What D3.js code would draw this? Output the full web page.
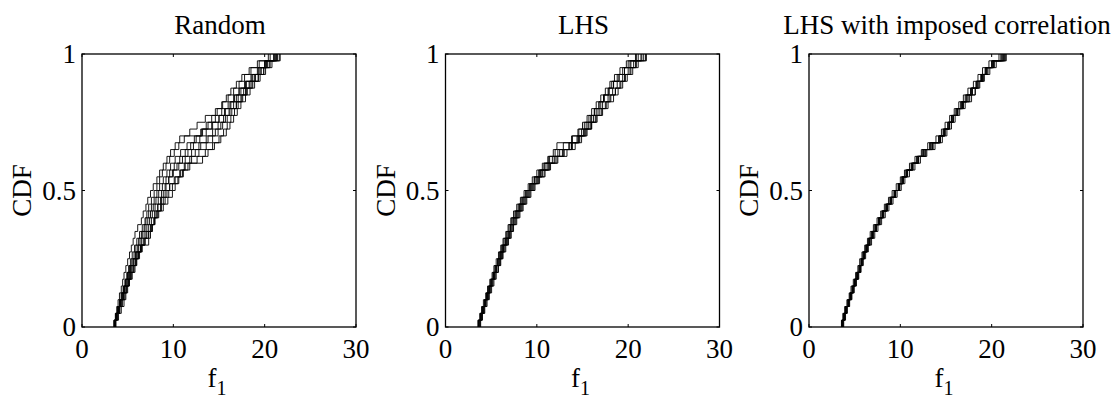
<!DOCTYPE html>
<html>
<head>
<meta charset="utf-8">
<script src="https://cdn.jsdelivr.net/npm/d3@7"></script>
<style>
  html, body { margin: 0; padding: 0; background: #fff; }
  svg { display: block; }
  text { font-family: "Liberation Serif", "Times New Roman", Times, serif; fill: #000; }
</style>
</head>
<body>
<svg id="chart" width="1120" height="398"></svg>
<script>
// ---------- data ----------
const panelTitles = ["Random", "LHS", "LHS with imposed correlation"];
const xTickValues = [0, 10, 20, 30];
const yTickValues = [0, 0.5, 1];
const yTickLabels = ["0", "0.5", "1"];
const xLabel = "f";
const xLabelSub = "1";
const yLabel = "CDF";

// sorted sample values of f1 for each run (empirical CDF, 40 samples per run)
const randomRuns = [
  [3.5,3.65,3.8,3.95,4.1,4.3,4.45,4.6,4.8,5.0,5.2,5.4,5.6,5.8,6.1,6.5,6.7,7.0,7.2,7.5,7.8,8.2,8.5,8.9,9.3,9.7,10.2,10.7,13.0,13.6,14.2,14.8,15.3,15.8,16.3,16.9,17.5,18.3,19.2,20.4],
  [3.7,4.0,4.3,4.6,4.8,5.0,5.2,5.5,5.8,6.0,6.3,6.6,6.9,7.3,7.6,8.0,8.4,8.9,9.4,9.9,10.2,10.6,11.0,11.6,13.2,13.8,14.5,15.2,15.8,16.2,16.6,17.0,17.4,17.9,18.4,18.9,19.5,20.1,20.8,21.6],
  [3.6,3.8,4.1,4.4,4.6,4.9,5.1,5.3,5.6,5.9,6.2,6.5,6.9,7.3,7.7,7.9,8.2,8.6,8.9,9.3,9.6,10.2,10.8,11.2,11.8,12.4,13.0,13.8,14.6,15.2,15.7,16.2,16.9,17.5,18.0,18.6,19.3,19.9,20.5,21.4],
  [3.6,3.75,3.95,4.2,4.4,4.6,4.8,5.0,5.3,5.6,5.9,6.4,7.3,7.5,7.7,7.9,8.1,8.3,8.6,8.9,9.2,9.5,9.9,10.4,11.0,11.6,12.2,12.9,13.6,14.3,15.0,15.6,16.2,16.7,17.2,17.9,18.6,19.4,20.1,21.0],
  [3.55,3.7,3.9,4.1,4.3,4.55,4.75,5.0,5.2,5.45,5.7,5.9,6.2,6.5,6.8,7.0,7.3,7.6,7.9,8.2,8.5,8.9,9.3,9.7,10.2,10.8,11.5,12.3,13.2,14.2,15.0,15.7,16.3,16.9,17.4,18.0,18.7,19.3,20.0,21.1],
  [3.65,3.9,4.15,4.4,4.7,4.9,5.15,5.4,5.7,5.95,6.2,6.5,6.8,7.1,7.5,7.9,8.3,8.7,9.1,9.5,9.9,10.5,11.1,11.8,12.6,13.5,14.3,15.0,15.5,15.9,16.3,16.7,17.1,17.6,18.1,18.7,19.3,19.9,20.6,21.7],
  [3.5,3.7,3.9,4.1,4.3,4.5,4.7,4.9,5.1,5.3,5.5,5.75,6.0,6.3,6.6,6.9,7.1,7.3,7.6,7.9,8.2,8.5,8.8,9.2,9.6,10.1,10.6,11.2,11.8,12.6,13.5,14.6,15.4,16.0,16.6,17.2,17.8,18.5,19.4,20.6],
  [3.6,3.8,4.0,4.25,4.5,4.7,4.95,5.2,5.45,5.7,5.95,6.2,6.5,6.8,7.1,7.4,7.7,8.0,8.35,8.7,9.1,9.5,10.0,10.6,11.3,12.0,12.8,13.6,14.3,14.9,15.5,16.1,16.6,17.1,17.7,18.3,18.9,19.6,20.3,21.3],
  [3.7,3.85,4.05,4.3,4.55,4.8,5.05,5.35,5.6,5.85,6.1,6.4,6.7,7.0,7.3,7.6,7.95,8.3,8.7,9.1,9.6,10.1,10.7,11.3,12.0,12.8,13.6,14.3,14.9,15.4,15.9,16.4,16.9,17.4,17.9,18.4,19.0,19.6,20.2,21.0],
  [3.55,3.75,4.0,4.2,4.45,4.65,4.9,5.1,5.35,5.6,5.85,6.1,6.35,6.6,6.9,7.2,7.5,7.8,8.1,8.4,8.8,9.2,9.6,10.1,10.7,11.3,11.9,12.5,13.1,13.8,14.6,15.3,16.0,16.6,17.2,17.8,18.5,19.2,20.0,21.2]
];

const lhsRuns = [
  [3.55,3.75,3.95,4.15,4.4,4.6,4.85,5.1,5.3,5.55,5.8,6.05,6.3,6.6,6.85,7.15,7.45,7.8,8.2,8.6,9.05,9.5,10.0,10.6,11.2,12.0,12.9,13.8,14.5,15.0,15.5,16.0,16.5,17.0,17.5,18.0,18.5,19.1,19.8,20.8],
  [3.85,4.05,4.3,4.55,4.8,5.05,5.3,5.55,5.8,6.05,6.3,6.6,6.9,7.2,7.45,7.8,8.15,8.5,8.9,9.35,9.8,10.3,10.9,11.5,12.3,13.3,14.2,14.9,15.5,16.0,16.5,17.1,17.6,18.1,18.6,19.2,19.7,20.3,20.9,21.9],
  [3.7,3.85,4.05,4.3,4.5,4.7,4.95,5.2,5.4,5.7,5.9,6.15,6.4,6.7,6.95,7.25,7.6,7.95,8.3,8.75,9.2,9.7,10.2,10.8,11.4,12.3,13.5,14.6,15.3,15.9,16.4,16.9,17.5,18.0,18.6,19.1,19.6,20.2,20.8,21.7],
  [3.75,4.0,4.25,4.45,4.7,4.95,5.2,5.45,5.75,6.0,6.25,6.5,6.8,7.1,7.4,7.7,8.05,8.4,8.8,9.25,9.7,10.2,10.8,11.4,12.2,13.0,13.8,14.4,14.9,15.4,15.9,16.3,16.8,17.3,17.8,18.2,18.8,19.4,20.0,20.9],
  [3.6,3.8,4.0,4.3,4.5,4.75,5.0,5.25,5.5,5.75,6.0,6.25,6.55,6.85,7.1,7.4,7.75,8.1,8.5,8.95,9.4,9.9,10.4,11.0,11.7,12.5,13.6,14.5,15.2,15.7,16.2,16.7,17.2,17.8,18.3,18.8,19.4,20.0,20.6,21.5],
  [3.65,3.9,4.15,4.35,4.6,4.85,5.1,5.35,5.6,5.85,6.1,6.35,6.65,6.95,7.2,7.5,7.85,8.2,8.6,9.05,9.5,10.0,10.55,11.2,11.9,12.8,13.8,14.6,15.1,15.6,16.0,16.5,17.0,17.4,17.9,18.4,19.0,19.6,20.2,21.1],
  [3.6,3.85,4.1,4.3,4.55,4.8,5.0,5.25,5.5,5.75,6.0,6.3,6.55,6.85,7.1,7.4,7.7,8.05,8.45,8.85,9.3,9.75,10.3,10.8,11.3,11.8,12.2,13.9,14.6,15.2,15.7,16.3,16.8,17.3,17.9,18.4,19.0,19.6,20.3,21.4],
  [3.8,3.95,4.15,4.4,4.65,4.85,5.1,5.35,5.6,5.9,6.15,6.4,6.7,7.0,7.3,7.6,7.95,8.3,8.7,9.15,9.6,10.1,10.6,11.3,12.0,12.9,13.9,14.7,15.4,16.0,16.6,17.2,17.8,18.4,18.9,19.4,19.9,20.5,21.1,22.0]
];

const lhsCorrRuns = [
  [3.55,3.7,3.9,4.15,4.4,4.6,4.85,5.1,5.35,5.55,5.8,6.1,6.4,6.7,7.05,7.45,7.85,8.25,8.7,9.1,9.55,10.0,10.45,11.0,11.6,12.3,13.0,13.9,14.5,14.9,15.4,15.9,16.4,16.9,17.4,18.0,18.5,19.0,19.7,20.8],
  [3.8,4.0,4.2,4.45,4.7,4.95,5.2,5.45,5.7,5.95,6.2,6.5,6.85,7.2,7.55,7.95,8.35,8.75,9.2,9.65,10.1,10.5,11.0,11.6,12.2,12.9,13.8,14.6,15.1,15.6,16.0,16.5,17.1,17.6,18.2,18.7,19.2,19.8,20.5,21.6],
  [3.65,3.8,4.0,4.3,4.5,4.75,5.0,5.25,5.5,5.7,5.95,6.25,6.55,6.9,7.25,7.6,8.0,8.45,8.9,9.35,9.8,10.2,10.65,11.2,11.8,12.5,13.5,14.4,14.9,15.4,15.8,16.3,16.7,17.5,17.9,18.3,18.9,19.3,20.0,21.3],
  [3.7,3.9,4.1,4.35,4.6,4.85,5.05,5.35,5.6,5.8,6.05,6.35,6.65,7.0,7.35,7.75,8.15,8.55,9.0,9.45,9.9,10.3,10.75,11.35,11.95,12.7,13.3,14.2,14.7,15.2,15.6,16.1,16.9,17.1,17.7,18.5,19.0,19.5,20.2,21.1],
  [3.6,3.85,4.05,4.25,4.5,4.8,5.0,5.3,5.55,5.75,6.0,6.3,6.6,6.95,7.3,7.7,8.05,8.5,8.95,9.4,9.85,10.25,10.7,11.3,11.9,12.55,13.45,14.3,14.8,15.35,15.75,16.25,16.8,17.3,17.85,18.4,18.9,19.4,20.1,21.0],
  [3.75,3.95,4.15,4.4,4.65,4.9,5.1,5.4,5.65,5.85,6.1,6.4,6.7,7.05,7.4,7.8,8.2,8.6,9.05,9.5,9.95,10.35,10.8,11.4,12.0,12.8,13.6,14.4,14.9,15.4,15.8,16.3,16.9,17.8,18.2,18.6,19.1,19.6,20.3,21.4],
  [3.6,3.8,4.0,4.25,4.5,4.7,4.95,5.2,5.45,5.7,5.9,6.2,6.5,6.85,7.2,7.6,8.0,8.4,8.85,9.3,9.75,10.15,10.6,11.2,11.8,12.4,13.2,14.2,14.7,15.2,15.6,16.1,16.6,17.2,17.7,18.3,18.8,19.3,20.0,21.2],
  [3.7,3.85,4.1,4.35,4.55,4.8,5.05,5.3,5.6,5.8,6.05,6.35,6.65,7.0,7.35,7.7,8.1,8.55,9.0,9.45,9.9,10.3,10.75,11.35,12.0,12.7,13.5,14.35,14.85,15.3,15.75,16.2,16.8,17.3,17.8,18.4,18.95,19.45,20.15,21.5]
];

const panelRuns = [randomRuns, lhsRuns, lhsCorrRuns];

// ---------- layout ----------
const svg = d3.select("#chart");
const panelLefts = [82, 445.5, 809];
const plotW = 274, plotTop = 54, plotH = 273;
const fontSize = 27;
const fontFam = '"Liberation Serif", "Times New Roman", Times, serif';

const line = d3.line().curve(d3.curveStepAfter);

panelRuns.forEach((runs, pi) => {
  const left = panelLefts[pi];
  const x = d3.scaleLinear().domain([0, 30]).range([left, left + plotW]);
  const y = d3.scaleLinear().domain([0, 1]).range([plotTop + plotH, plotTop]);
  const g = svg.append("g").attr("font-family", fontFam);

  // curves
  runs.forEach(samples => {
    const n = samples.length;
    const pts = [[x(samples[0]), y(0)]];
    samples.forEach((v, i) => pts.push([x(v), y((i + 1) / n)]));
    g.append("path")
      .attr("d", line(pts))
      .attr("fill", "none")
      .attr("stroke", "#000")
      .attr("stroke-width", 0.9);
  });

  // frame
  g.append("rect")
    .attr("x", left).attr("y", plotTop)
    .attr("width", plotW).attr("height", plotH)
    .attr("fill", "none").attr("stroke", "#000").attr("stroke-width", 1.3);

  const tl = 3;
  // x ticks (inward, bottom & top)
  xTickValues.forEach(v => {
    g.append("line").attr("x1", x(v)).attr("x2", x(v))
      .attr("y1", y(0)).attr("y2", y(0) - tl).attr("stroke", "#000");
    g.append("line").attr("x1", x(v)).attr("x2", x(v))
      .attr("y1", y(1)).attr("y2", y(1) + tl).attr("stroke", "#000");
    g.append("text").attr("x", x(v)).attr("y", y(0) + 31)
      .attr("text-anchor", "middle").attr("font-size", fontSize).text(v);
  });
  // y ticks (inward, left & right)
  yTickValues.forEach((v, i) => {
    g.append("line").attr("x1", x(0)).attr("x2", x(0) + tl)
      .attr("y1", y(v)).attr("y2", y(v)).attr("stroke", "#000");
    g.append("line").attr("x1", x(30)).attr("x2", x(30) - tl)
      .attr("y1", y(v)).attr("y2", y(v)).attr("stroke", "#000");
    g.append("text").attr("x", x(0) - 6).attr("y", y(v) + 9)
      .attr("text-anchor", "end").attr("font-size", fontSize).text(yTickLabels[i]);
  });

  // title
  g.append("text").attr("x", left + plotW / 2 + 1).attr("y", 34)
    .attr("text-anchor", "middle").attr("font-size", fontSize).text(panelTitles[pi]);

  // x label with subscript
  const xl = g.append("text").attr("x", left + plotW / 2 - 2).attr("y", 387)
    .attr("text-anchor", "middle").attr("font-size", fontSize);
  xl.append("tspan").text(xLabel);
  xl.append("tspan").attr("dy", 8).attr("font-size", 20).text(xLabelSub);

  // y label
  g.append("text")
    .attr("transform", `translate(${left - 51},${plotTop + plotH / 2}) rotate(-90)`)
    .attr("text-anchor", "middle").attr("font-size", fontSize).text(yLabel);
});
</script>
</body>
</html>
